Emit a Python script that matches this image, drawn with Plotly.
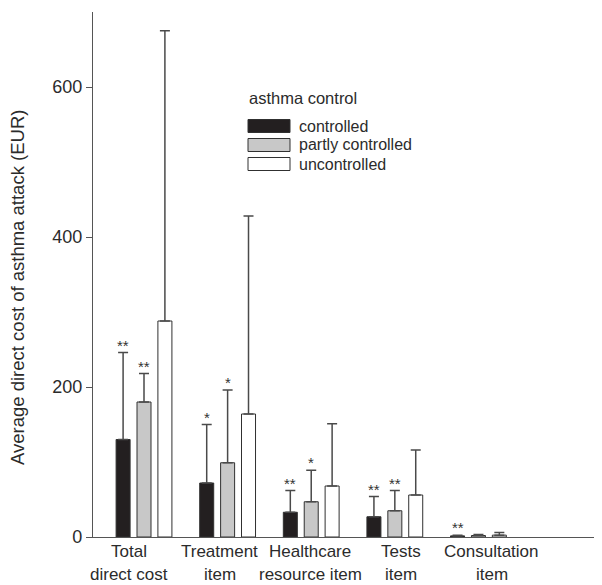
import plotly.graph_objects as go

# ---- data ----
labels_line1 = ["Total", "Treatment", "Healthcare", "Tests", "Consultation"]
labels_line2 = ["direct cost", "item", "resource item", "item", "item"]
series_names = ["controlled", "partly controlled", "uncontrolled"]

controlled = [130, 72, 33, 27, 1.5]
controlled_err = [116, 78, 29, 27, 1.0]
partly = [180, 99, 47, 35, 2]
partly_err = [38, 97, 42, 27, 1.5]
uncontrolled = [288, 164, 68, 56, 2.5]
uncontrolled_err = [387, 264, 83, 60, 3.5]

controlled_sig = ["**", "*", "**", "**", "**"]
partly_sig = ["**", "*", "*", "**", ""]
uncontrolled_sig = ["", "", "", "", ""]

y_ticks = [0, 200, 400, 600]
y_title = "Average direct cost of asthma attack (EUR)"
legend_title = "asthma control"

# ---- style ----
FONT = "Liberation Sans, Arial, sans-serif"
TXT = "#2b2b2b"
fills = ["#231f20", "#c8c8c8", "#ffffff"]
OFF = 8  # page body margin
W, H = 594, 577
ML, MR, MT, MB = 85, 4, 4, 48
PW, PH = W - ML - MR, H - MT - MB

def px_x(px):
    return (px - OFF - ML) / PW

def px_y(py):
    return (H - MB - (py - OFF)) / PH

values = [controlled, partly, uncontrolled]
errors = [controlled_err, partly_err, uncontrolled_err]
sigs = [controlled_sig, partly_sig, uncontrolled_sig]
xs = list(range(len(labels_line1)))

fig = go.Figure()
for name, v, e, c in zip(series_names, values, errors, fills):
    fig.add_trace(go.Bar(
        x=xs, y=v, name=name,
        marker=dict(color=c, line=dict(color="#303030", width=1)),
        error_y=dict(type="data", array=e, arrayminus=[0] * len(e), symmetric=False,
                     color="#4a4a4a", thickness=1.5, width=5),
        showlegend=False,
    ))

annotations = []
offsets = [-0.25, 0.0, 0.25]
for sig, v, e, off in zip(sigs, values, errors, offsets):
    for i, s in enumerate(sig):
        if s:
            annotations.append(dict(
                x=xs[i] + off, y=v[i] + e[i], xref="x", yref="y", text=s,
                showarrow=False, yanchor="bottom", yshift=-3,
                font=dict(family=FONT, size=15, color="#333333")))

# category labels (two lines)
for i, (l1, l2) in enumerate(zip(labels_line1, labels_line2)):
    lx = -0.18 + 1.085 * i
    annotations.append(dict(x=lx, y=px_y(551), xref="x", yref="paper", text=l1,
                            showarrow=False, yanchor="middle",
                            font=dict(family=FONT, size=17, color=TXT)))
    annotations.append(dict(x=lx, y=px_y(574), xref="x", yref="paper", text=l2,
                            showarrow=False, yanchor="middle",
                            font=dict(family=FONT, size=17, color=TXT)))

# y axis title
annotations.append(dict(x=px_x(17), y=px_y(288), xref="paper", yref="paper",
                        text=y_title, textangle=-90, showarrow=False,
                        xanchor="center", yanchor="middle",
                        font=dict(family=FONT, size=18.5, color=TXT)))

# custom legend
annotations.append(dict(x=px_x(247), y=px_y(98), xref="paper", yref="paper",
                        text=legend_title, showarrow=False, xanchor="left",
                        yanchor="middle", font=dict(family=FONT, size=16.5, color=TXT)))
shapes = []
row_y = [126, 145, 164]
for name, c, ry in zip(series_names, fills, row_y):
    shapes.append(dict(type="rect", xref="paper", yref="paper",
                       x0=px_x(248), x1=px_x(290), y0=px_y(ry + 6.5), y1=px_y(ry - 6.5),
                       fillcolor=c, line=dict(color="#303030", width=1)))
    annotations.append(dict(x=px_x(297), y=px_y(ry), xref="paper", yref="paper",
                            text=name, showarrow=False, xanchor="left", yanchor="middle",
                            font=dict(family=FONT, size=16, color=TXT)))

fig.update_layout(
    width=W, height=H,
    margin=dict(l=ML, r=MR, t=MT, b=MB),
    paper_bgcolor="white", plot_bgcolor="white",
    barmode="group", bargap=0.25, bargroupgap=0.33,
    annotations=annotations, shapes=shapes,
    font=dict(family=FONT, color=TXT),
    xaxis=dict(range=[-0.61, 5.43], showticklabels=False, ticks="",
               showgrid=False, zeroline=False, showline=True,
               linecolor="#555555", linewidth=1.2),
    yaxis=dict(range=[0, 700], tickvals=y_ticks, ticks="outside", ticklen=6,
               tickcolor="#555555", showgrid=False, zeroline=False, showline=True,
               linecolor="#555555", linewidth=1.2,
               tickfont=dict(family=FONT, size=18, color=TXT)),
)

fig.write_html("out.html")
